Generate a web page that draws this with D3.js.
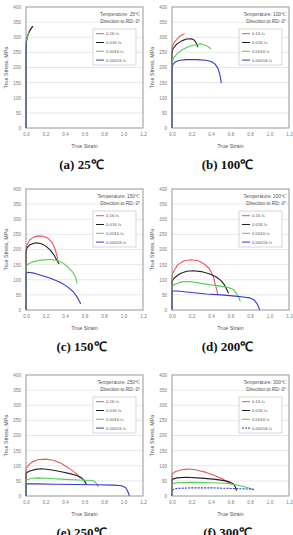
<!DOCTYPE html>
<html><head><meta charset="utf-8">
<script src="https://cdn.jsdelivr.net/npm/d3@7"></script>
<style>body{margin:0;background:#fff}svg{display:block}</style>
</head><body>
<script>
// ---- data ----
const strainTicks = [0, 0.2, 0.4, 0.6, 0.8, 1.0, 1.2];
const stressTicks = [0, 50, 100, 150, 200, 250, 300, 350, 400];
const rateLabels = ["0.16 /s", "0.016 /s", "0.0016 /s", "0.00016 /s"];
const temperatures = [25, 100, 150, 200, 250, 300];
const captions = ["(a) 25℃", "(b) 100℃", "(c) 150℃", "(d) 200℃", "(e) 250℃", "(f) 300℃"];

// 25 C
const t25_r1 = [[0,0],[0,250],[0.004,285],[0.01,298],[0.02,308],[0.035,320],[0.05,328],[0.065,334],[0.07,336]];
const t25_r2 = [[0,0],[0,250],[0.004,285],[0.01,298],[0.02,308],[0.035,320],[0.05,328],[0.065,334],[0.072,337]];
const t25_r3 = [[0,0],[0,250],[0.004,285],[0.01,298],[0.02,308],[0.035,318]];
const t25_r4 = [[0,0],[0,250],[0.003,280],[0.006,292]];
// 100 C
const t100_r1 = [[0,0],[0,265],[0.01,275],[0.04,290],[0.08,303],[0.12,310],[0.13,312]];
const t100_r2 = [[0,0],[0,250],[0.01,262],[0.05,278],[0.1,288],[0.15,294],[0.2,295],[0.23,290],[0.25,280],[0.265,268]];
const t100_r3 = [[0,0],[0,215],[0.01,228],[0.05,245],[0.1,258],[0.15,266],[0.2,272],[0.25,276],[0.3,278],[0.35,273],[0.4,262]];
const t100_r4 = [[0,0],[0,195],[0.01,210],[0.03,218],[0.08,224],[0.15,226],[0.25,226],[0.35,224],[0.4,220],[0.44,212],[0.47,198],[0.49,178],[0.5,160],[0.505,148]];
// 150 C
const t150_r1 = [[0,0],[0,200],[0.01,215],[0.04,232],[0.08,241],[0.13,245],[0.18,244],[0.23,236],[0.27,222],[0.3,200],[0.32,175],[0.33,158]];
const t150_r2 = [[0,0],[0,190],[0.01,205],[0.04,216],[0.1,222],[0.15,220],[0.2,212],[0.25,198],[0.29,180],[0.32,162],[0.34,152]];
const t150_r3 = [[0,0],[0,145],[0.02,152],[0.08,160],[0.15,165],[0.25,167],[0.32,164],[0.38,155],[0.43,142],[0.48,125],[0.51,108],[0.525,88]];
const t150_r4 = [[0,0],[0,120],[0.02,125],[0.08,122],[0.15,115],[0.25,105],[0.35,92],[0.42,78],[0.48,62],[0.52,45],[0.55,28],[0.56,20]];
// 200 C
const t200_r1 = [[0,0],[0,115],[0.02,130],[0.06,150],[0.12,162],[0.2,166],[0.27,163],[0.33,152],[0.38,138],[0.42,115],[0.44,90],[0.46,65],[0.47,52]];
const t200_r2 = [[0,0],[0,95],[0.02,105],[0.08,120],[0.15,128],[0.22,130],[0.3,127],[0.38,120],[0.45,110],[0.5,98],[0.54,82],[0.57,62],[0.58,55]];
const t200_r3 = [[0,0],[0,78],[0.03,85],[0.1,93],[0.18,94],[0.3,88],[0.4,83],[0.5,79],[0.58,74],[0.63,68],[0.66,55],[0.69,38],[0.7,28]];
const t200_r4 = [[0,0],[0,63],[0.05,63],[0.2,58],[0.35,53],[0.5,50],[0.65,46],[0.75,42],[0.8,40],[0.84,34],[0.87,22],[0.89,8],[0.9,0]];
// 250 C
const t250_r1 = [[0,0],[0,90],[0.02,100],[0.06,112],[0.12,120],[0.2,122],[0.28,118],[0.36,108],[0.44,92],[0.5,78],[0.54,66],[0.56,58]];
const t250_r2 = [[0,0],[0,75],[0.03,82],[0.1,88],[0.16,90],[0.25,87],[0.35,81],[0.45,74],[0.52,68],[0.57,60],[0.6,50],[0.62,38]];
const t250_r3 = [[0,0],[0,52],[0.05,58],[0.12,60],[0.25,58],[0.4,55],[0.55,53],[0.68,51],[0.71,46],[0.73,38],[0.74,30]];
const t250_r4 = [[0,0],[0,40],[0.1,40],[0.3,39],[0.5,38],[0.7,37],[0.9,36],[0.98,34],[1.02,28],[1.04,18],[1.055,6],[1.06,0]];
// 300 C
const t300_r1 = [[0,0],[0,72],[0.03,80],[0.1,87],[0.17,89],[0.25,86],[0.35,78],[0.45,66],[0.52,56],[0.57,46],[0.6,40]];
const t300_r2 = [[0,0],[0,55],[0.05,60],[0.15,62],[0.3,59],[0.45,55],[0.55,50],[0.6,45],[0.63,40],[0.65,30],[0.66,18]];
const t300_r3 = [[0,0],[0,40],[0.05,44],[0.2,45],[0.4,44],[0.55,42],[0.65,37],[0.72,32],[0.78,27],[0.83,22]];
const t300_r4 = [[0,0],[0,20],[0.05,25],[0.2,27],[0.4,27],[0.6,25],[0.8,23],[0.84,22]];

const panelSeries = [
  [t25_r1, t25_r2, t25_r3, t25_r4],
  [t100_r1, t100_r2, t100_r3, t100_r4],
  [t150_r1, t150_r2, t150_r3, t150_r4],
  [t200_r1, t200_r2, t200_r3, t200_r4],
  [t250_r1, t250_r2, t250_r3, t250_r4],
  [t300_r1, t300_r2, t300_r3, t300_r4]
];

// ---- layout ----
const colors = ["#ee5555", "#222222", "#55cc55", "#3838c8"];
const colX = [26, 172];
const rowY = [7, 189, 375];
const PW = 117, PH = 121;

const svg = d3.select("body").append("svg").attr("width", 293).attr("height", 535);

const x = d3.scaleLinear().domain([0, 1.2]).range([0, PW]);
const y = d3.scaleLinear().domain([0, 400]).range([PH, 0]);
const line = d3.line().x(d => x(d[0])).y(d => y(d[1]));

panelSeries.forEach((series, i) => {
  const col = i % 2, row = Math.floor(i / 2);
  const g = svg.append("g").attr("transform", `translate(${colX[col]},${rowY[row]})`);

  // grid
  g.append("g").selectAll("line").data(stressTicks.slice(1, -1)).join("line")
    .attr("x1", 0).attr("x2", PW).attr("y1", d => y(d)).attr("y2", d => y(d))
    .attr("stroke", "#e2e2e2").attr("stroke-width", 0.8);

  // axes
  const ax = g.append("g").attr("transform", `translate(0,${PH})`)
    .call(d3.axisBottom(x).tickValues(strainTicks).tickFormat(d3.format(".1f")).tickSize(0).tickPadding(5));
  const ay = g.append("g")
    .call(d3.axisLeft(y).tickValues(stressTicks).tickFormat(d3.format("d")).tickSize(0).tickPadding(5));
  [ax, ay].forEach(a => {
    a.select(".domain").remove();
    a.selectAll("text").attr("fill", "#777").attr("font-size", 4.6).attr("font-family", "Liberation Sans, Arial, sans-serif");
  });

  // curves
  series.forEach((s, k) => {
    g.append("path").datum(s).attr("d", line).attr("fill", "none")
      .attr("stroke", colors[k]).attr("stroke-width", 1.1)
      .attr("stroke-dasharray", (i === 5 && k === 3) ? "2,1.2" : null)
      .attr("stroke-linejoin", "round");
  });

  // frame
  g.append("rect").attr("width", PW).attr("height", PH).attr("fill", "none")
    .attr("stroke", "#8a8a8a").attr("stroke-width", 0.9);

  // annotation
  const ann = g.append("g").attr("font-family", "Liberation Sans, Arial, sans-serif")
    .attr("font-size", 4.8).attr("fill", "#555").attr("text-anchor", "end");
  ann.append("text").attr("x", 114).attr("y", 9).text(`Temperature: ${temperatures[i]}℃`);
  ann.append("text").attr("x", 114).attr("y", 16).text("Direction to RD: 0°");

  // legend
  const lg = g.append("g").attr("transform", "translate(67,22)");
  lg.append("rect").attr("width", 43).attr("height", 36).attr("fill", "#fff")
    .attr("stroke", "#bbb").attr("stroke-width", 0.6);
  rateLabels.forEach((lab, k) => {
    const yy = 4.7 + k * 8.8;
    lg.append("line").attr("x1", 3).attr("x2", 11).attr("y1", yy).attr("y2", yy)
      .attr("stroke", colors[k]).attr("stroke-width", 1)
      .attr("stroke-dasharray", (i === 5 && k === 3) ? "2,1" : null);
    lg.append("text").attr("x", 13).attr("y", yy + 1.5).text(lab)
      .attr("font-size", 4.3).attr("fill", "#555").attr("font-family", "Liberation Sans, Arial, sans-serif");
  });

  // axis titles
  g.append("text").attr("x", PW / 2).attr("y", PH + 20).attr("text-anchor", "middle")
    .attr("font-size", 5.4).attr("fill", "#555").attr("font-family", "Liberation Sans, Arial, sans-serif")
    .text("True Strain");
  g.append("text").attr("transform", `translate(-18,${PH / 2}) rotate(-90)`).attr("text-anchor", "middle")
    .attr("font-size", 5.4).attr("fill", "#555").attr("font-family", "Liberation Sans, Arial, sans-serif")
    .text("True Stress, MPa");

  // caption
  g.append("text").attr("x", PW / 2 - 3).attr("y", PH + 41).attr("text-anchor", "middle")
    .attr("font-size", 13).attr("font-weight", "bold").attr("fill", "#111")
    .attr("font-family", "Liberation Serif, Times New Roman, serif")
    .text(captions[i]);
});
</script>
</body></html>
